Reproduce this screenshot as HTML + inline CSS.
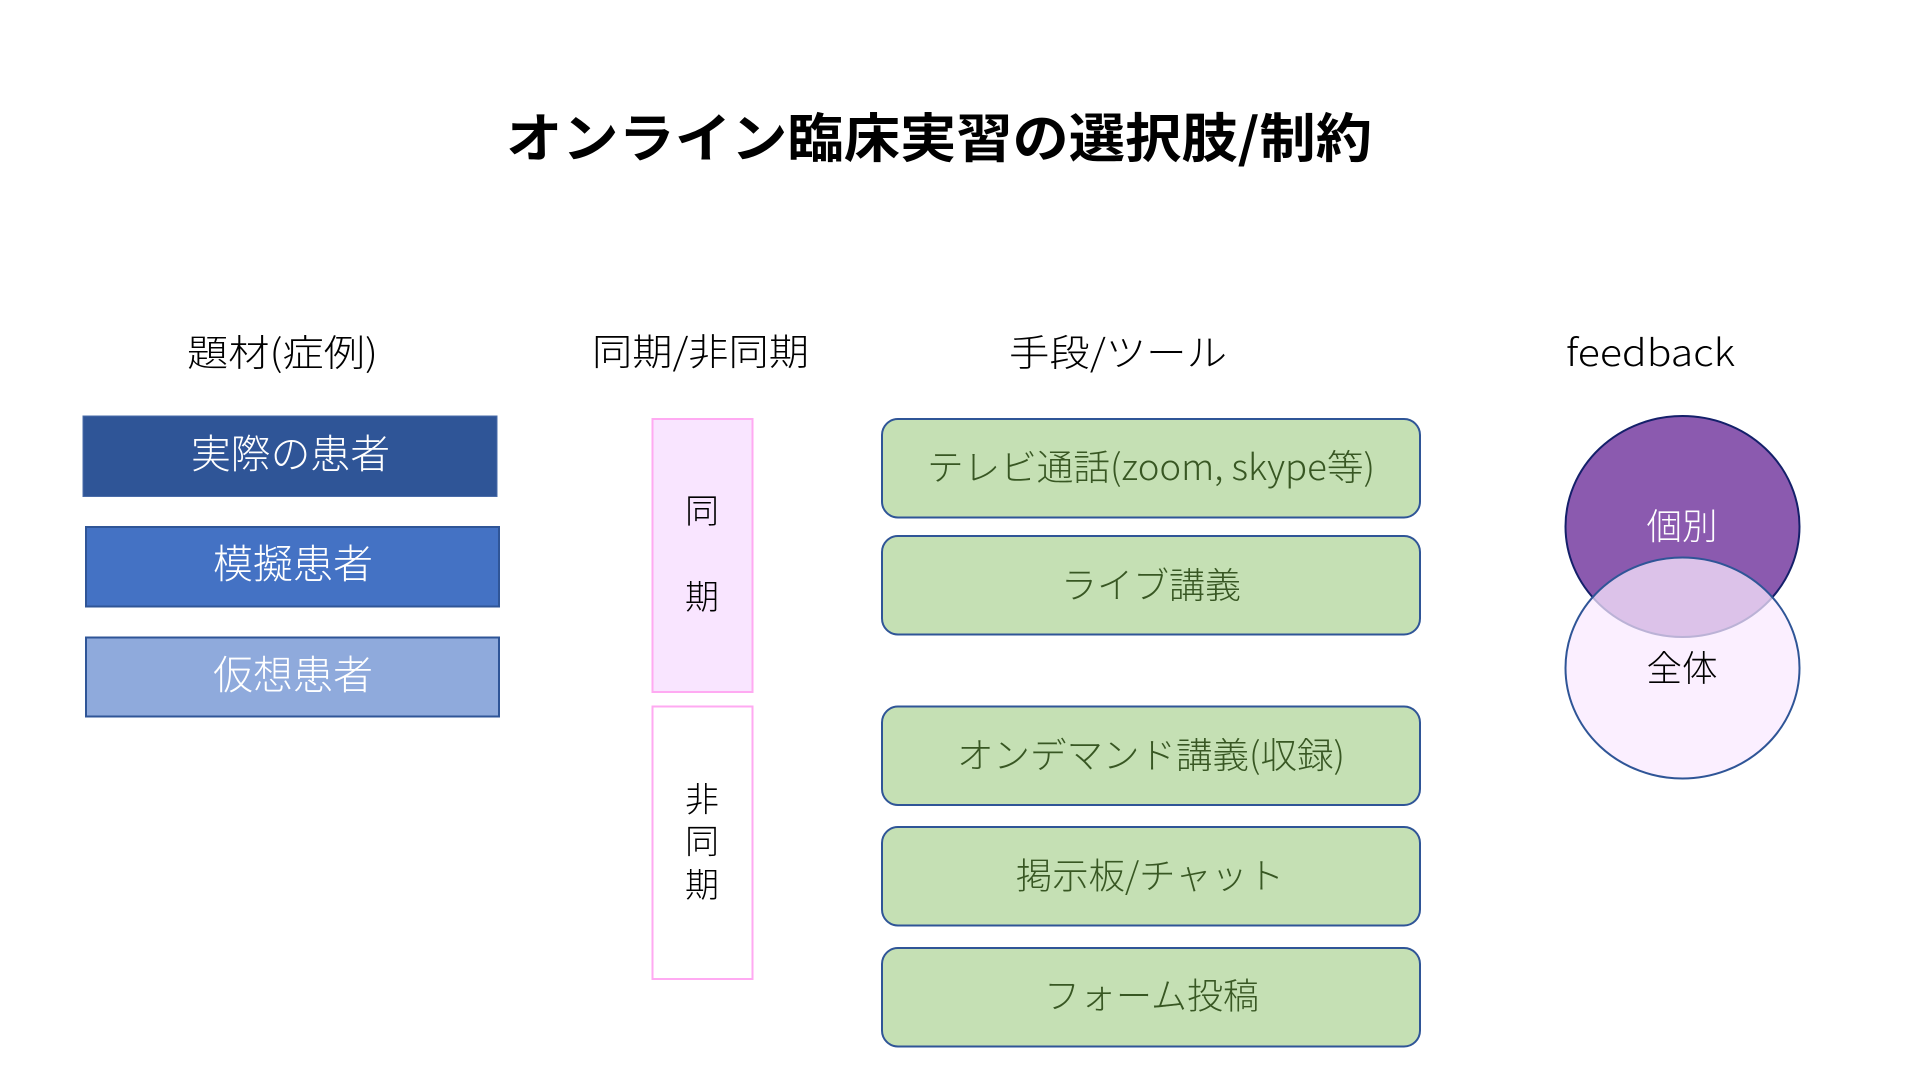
<!DOCTYPE html>
<html lang="ja">
<head>
<meta charset="utf-8">
<title>オンライン臨床実習の選択肢/制約</title>
<style>
html,body{margin:0;padding:0;background:#fff;}
svg{display:block;}
text{font-family:"Liberation Sans","Noto Sans CJK JP",sans-serif;font-weight:300;}
.j{font-family:"Noto Sans CJK JP","Liberation Sans",sans-serif;}
</style>
</head>
<body>
<svg xmlns="http://www.w3.org/2000/svg" width="1920" height="1080" viewBox="0 0 1920 1080">
<rect width="1920" height="1080" fill="#fff"/>

<text class="j" x="506" y="157" font-size="53" style="font-weight:700" fill="#000" textLength="866" lengthAdjust="spacingAndGlyphs">オンライン臨床実習の選択肢/制約</text>

<g font-size="37" fill="#000">
<text class="j" x="187" y="366" textLength="191" lengthAdjust="spacingAndGlyphs">題材(症例)</text>
<text class="j" x="592" y="365" textLength="217" lengthAdjust="spacingAndGlyphs">同期/非同期</text>
<text class="j" x="1009" y="366" textLength="218" lengthAdjust="spacingAndGlyphs">手段/ツール</text>
<text class="j" x="1566" y="366" textLength="169" lengthAdjust="spacingAndGlyphs">feedback</text>
</g>

<rect x="83" y="416" width="414" height="80.500" fill="#2F5597" stroke="#4A6CA8" stroke-width="1"/>
<rect x="86" y="527" width="413" height="79.500" fill="#4472C4" stroke="#2F5597" stroke-width="2"/>
<rect x="86" y="637.500" width="413" height="79" fill="#8FAADC" stroke="#2F5597" stroke-width="2"/>
<g font-size="40" fill="#fff">
<text class="j" x="191" y="468" textLength="199" lengthAdjust="spacingAndGlyphs">実際の患者</text>
<text class="j" x="213" y="578" textLength="160" lengthAdjust="spacingAndGlyphs">模擬患者</text>
<text class="j" x="213" y="689" textLength="160" lengthAdjust="spacingAndGlyphs">仮想患者</text>
</g>

<rect x="655" y="421" width="0" height="0" fill="none"/>
<rect x="652.500" y="419" width="100" height="273" fill="#F9E5FF" stroke="#FFAAF2" stroke-width="2"/>
<rect x="652.500" y="706.500" width="100" height="272.500" fill="#fff" stroke="#FFAAF2" stroke-width="2"/>
<g font-size="34" fill="#000" text-anchor="middle">
<text class="j" x="702" y="523">同</text>
<text class="j" x="702" y="609">期</text>
<text class="j" x="702" y="811.500">非</text>
<text class="j" x="702" y="853.500">同</text>
<text class="j" x="702" y="897">期</text>
</g>

<g fill="#C5E0B4" stroke="#2F5597" stroke-width="2">
<rect x="882" y="419" width="538" height="98.500" rx="16" ry="16"/>
<rect x="882" y="536" width="538" height="98.500" rx="16" ry="16"/>
<rect x="882" y="706.500" width="538" height="98.500" rx="16" ry="16"/>
<rect x="882" y="827" width="538" height="98.500" rx="16" ry="16"/>
<rect x="882" y="948" width="538" height="98.500" rx="16" ry="16"/>
</g>
<g font-size="36" fill="#385723">
<text class="j" x="927" y="480" textLength="448" lengthAdjust="spacingAndGlyphs">テレビ通話(zoom, skype等)</text>
<text class="j" x="1061" y="598" textLength="180" lengthAdjust="spacingAndGlyphs">ライブ講義</text>
<text class="j" x="957" y="768" textLength="388" lengthAdjust="spacingAndGlyphs">オンデマンド講義(収録)</text>
<text class="j" x="1016" y="888.500" textLength="268" lengthAdjust="spacingAndGlyphs">掲示板/チャット</text>
<text class="j" x="1044" y="1008.500" textLength="215" lengthAdjust="spacingAndGlyphs">フォーム投稿</text>
</g>

<ellipse cx="1682.500" cy="526.500" rx="117" ry="110.500" fill="#8B5AAF" stroke="#14206A" stroke-width="2"/>
<text class="j" x="1682" y="539" font-size="36" fill="#fff" text-anchor="middle" textLength="71" lengthAdjust="spacingAndGlyphs">個別</text>
<ellipse cx="1682.500" cy="668" rx="117" ry="110.500" fill="#F9E9FF" fill-opacity="0.73" stroke="#2F5597" stroke-width="2"/>
<text class="j" x="1682" y="681" font-size="36" fill="#000" text-anchor="middle" textLength="71" lengthAdjust="spacingAndGlyphs">全体</text>
</svg>
</body>
</html>
